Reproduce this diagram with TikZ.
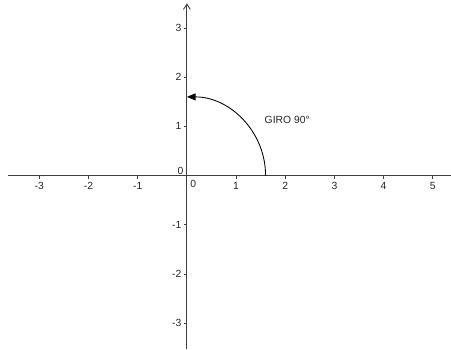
\documentclass[tikz,border=0pt]{standalone}
\usepackage{fontspec}
\setmainfont{Liberation Sans}
\usetikzlibrary{arrows.meta}

\begin{document}
\begin{tikzpicture}[
    axis/.style={draw=black!75, line width=0.5pt},
    num/.style={font=\fontsize{6}{7}\selectfont, text=black!85, inner sep=1pt},
    arr/.style={-{Triangle[length=5pt,width=4pt]}, line width=0.5pt}
]
\useasboundingbox (-3.80,-3.53) rectangle (5.37,3.57);

% axes
\coordinate (xl) at (-3.64,0);
\coordinate (xr) at (5.37,0);
\coordinate (yb) at (0,-3.53);
\coordinate (yt) at (0,3.50);
\draw[axis] (xl) -- (xr);
\draw[axis, -{Straight Barb[length=3pt,width=4pt]}] (yb) -- (yt);

% ticks
\foreach \x in {-3,-2,-1,1,2,3,4,5} {
  \draw[axis] (\x,0) -- (\x,-0.06);
  \node[num] at (\x,-0.21) {\x};
}
\foreach \y in {-3,-2,-1,1,2,3} {
  \draw[axis] (0,\y) -- (-0.06,\y);
  \node[num, anchor=east] at (-0.07,\y) {\y};
}
\node[num] (ox) at (0.13,-0.16) {0};
\node[num] (oy) at (-0.13,0.09) {0};

% rotation
\coordinate (p) at (1.6,0);
\coordinate (q) at (0,1.6);
\draw[arr] (p) arc[start angle=0, end angle=90, radius=1.6];
\node[num] (giro) at (2.04,1.13) {GIRO 90°};
\end{tikzpicture}
\end{document}
